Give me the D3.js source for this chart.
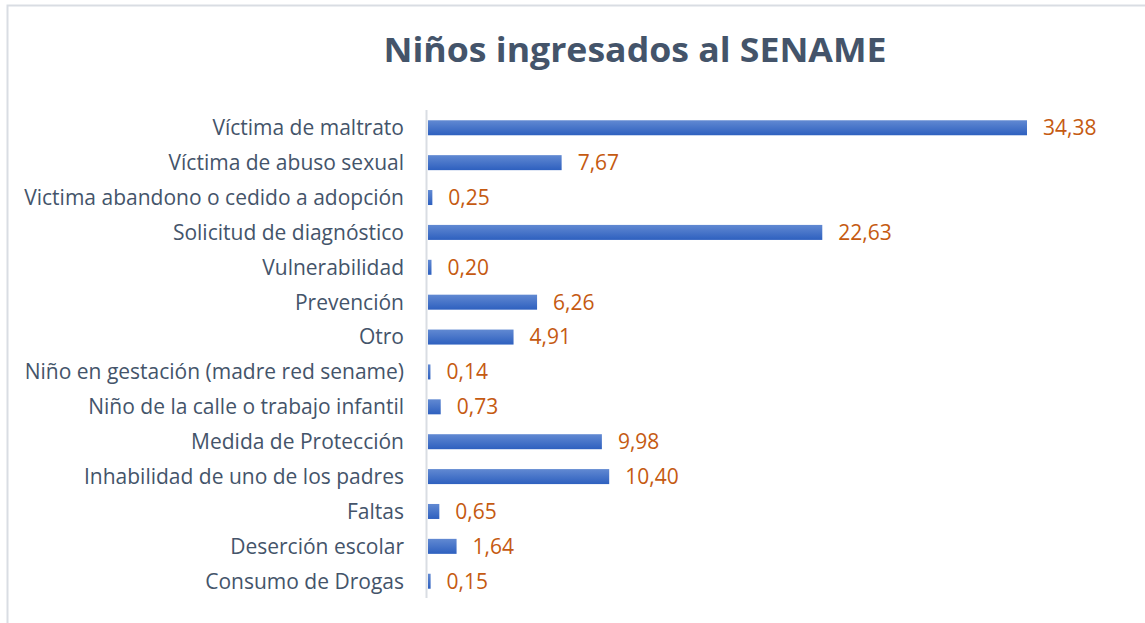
<!DOCTYPE html>
<html>
<head>
<meta charset="utf-8">
<script src="https://cdn.jsdelivr.net/npm/d3@7"></script>
<style>
  body { margin: 0; background: #fff; }
  svg { display: block; }
</style>
</head>
<body>
<div class="chart"></div>
<script>
// Chart data
const title = "Niños ingresados al SENAME";
const categories = [
    "Víctima de maltrato",
    "Víctima de abuso sexual",
    "Victima abandono o cedido a adopción",
    "Solicitud de diagnóstico",
    "Vulnerabilidad",
    "Prevención",
    "Otro",
    "Niño en gestación (madre red sename)",
    "Niño de la calle o trabajo infantil",
    "Medida de Protección",
    "Inhabilidad de uno de los padres",
    "Faltas",
    "Deserción escolar",
    "Consumo de Drogas"
];
const values = [34.38, 7.67, 0.25, 22.63, 0.20, 6.26, 4.91, 0.14, 0.73, 9.98, 10.40, 0.65, 1.64, 0.15];

const width = 1145;
const height = 623;
const margin = { top: 110, right: 118, bottom: 25, left: 428 };

const fontFamily = "'Open Sans', 'Noto Sans', sans-serif";

const svg = d3.select(".chart")
    .append("svg")
    .attr("width", width)
    .attr("height", height);

// Outer frame (only left and top edges visible in the image)
svg.append("rect")
    .attr("x", 7.5)
    .attr("y", 5.5)
    .attr("width", width + 10)
    .attr("height", height + 10)
    .attr("fill", "none")
    .attr("stroke", "#d9dde3")
    .attr("stroke-width", 2);

// Bar gradient
const defs = svg.append("defs");
const grad = defs.append("linearGradient")
    .attr("id", "barGrad")
    .attr("x1", 0).attr("y1", 0)
    .attr("x2", 0).attr("y2", 1);
grad.append("stop").attr("offset", "0%").attr("stop-color", "#6189d2");
grad.append("stop").attr("offset", "100%").attr("stop-color", "#2e60bf");

// Title
const titleText = svg.append("text")
    .attr("x", 635)
    .attr("y", 62)
    .attr("text-anchor", "middle")
    .attr("font-family", fontFamily)
    .attr("font-weight", "bold")
    .attr("font-size", 34)
    .attr("fill", "#44546a")
    .text(title);
// squeeze to the reference width
titleText.attr("textLength", 503).attr("lengthAdjust", "spacingAndGlyphs");

// Scales
const x = d3.scaleLinear()
    .domain([0, 34.38])
    .range([margin.left, 1027]);

const y = d3.scaleBand()
    .domain(categories)
    .range([110.5, 598.5])
    .paddingInner(0.57)
    .paddingOuter(0.28);

// Axis line
svg.append("line")
    .attr("x1", 426.5)
    .attr("x2", 426.5)
    .attr("y1", 110)
    .attr("y2", 598)
    .attr("stroke", "#d9dde3")
    .attr("stroke-width", 2);

// Bars
svg.selectAll(".bar")
    .data(values)
    .enter()
    .append("rect")
    .attr("class", "bar")
    .attr("x", x(0))
    .attr("y", (d, i) => y(categories[i]))
    .attr("width", d => Math.max(2, x(d) - x(0)))
    .attr("height", y.bandwidth())
    .attr("fill", "url(#barGrad)");

// Category labels
svg.selectAll(".cat")
    .data(categories)
    .enter()
    .append("text")
    .attr("class", "cat")
    .attr("x", 404)
    .attr("y", d => y(d) + y.bandwidth() / 2)
    .attr("dy", "0.35em")
    .attr("text-anchor", "end")
    .attr("font-family", fontFamily)
    .attr("font-size", 21)
    .attr("fill", "#44546a")
    .text(d => d);

// Value labels
svg.selectAll(".val")
    .data(values)
    .enter()
    .append("text")
    .attr("class", "val")
    .attr("x", d => Math.max(x(0) + 2, x(d)) + 16)
    .attr("y", (d, i) => y(categories[i]) + y.bandwidth() / 2)
    .attr("dy", "0.35em")
    .attr("font-family", fontFamily)
    .attr("font-size", 21)
    .attr("fill", "#c55a11")
    .text(d => d.toFixed(2).replace(".", ","));
</script>
</body>
</html>
